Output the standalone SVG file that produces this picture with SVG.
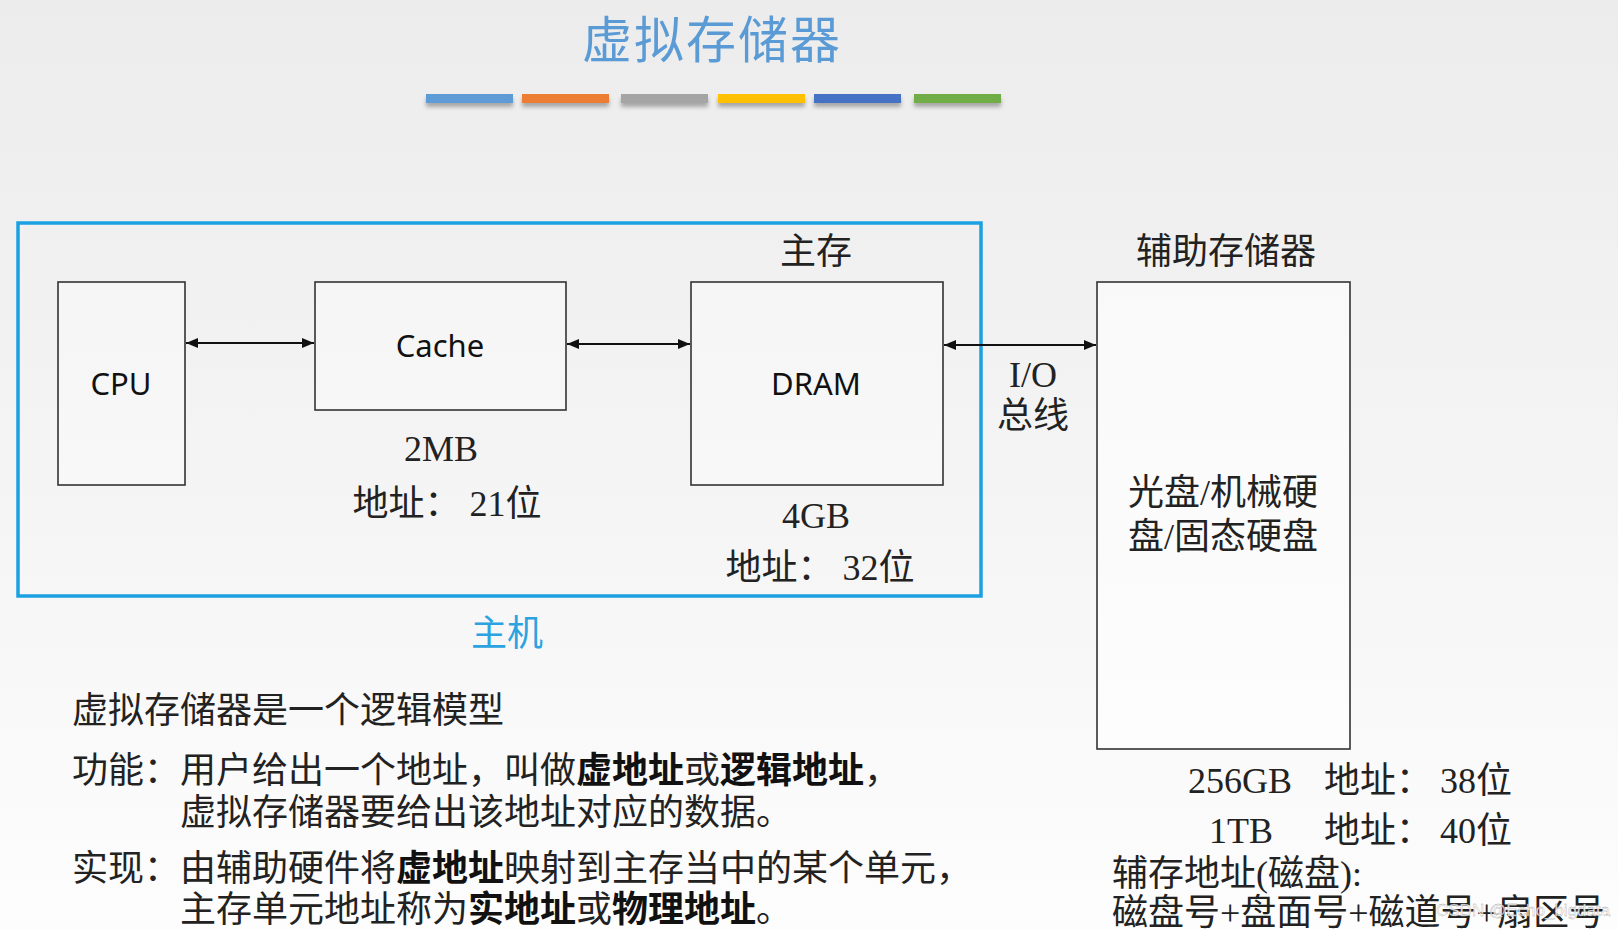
<svg xmlns="http://www.w3.org/2000/svg" width="1618" height="930" viewBox="0 0 1618 930">
<defs>
<linearGradient id="bg" x1="0" y1="0" x2="0" y2="1">
<stop offset="0" stop-color="#ececec"/>
<stop offset="0.5" stop-color="#f4f4f4"/>
<stop offset="1" stop-color="#fdfdfd"/>
</linearGradient>
<marker id="ah" viewBox="0 0 12 10" refX="12" refY="5" markerWidth="12" markerHeight="10" markerUnits="userSpaceOnUse" orient="auto-start-reverse">
<path d="M0,0 L12,5 L0,10 Z" fill="#111"/>
</marker>
<filter id="sh" x="-10%" y="-50%" width="120%" height="250%">
<feDropShadow dx="0" dy="4" stdDeviation="2" flood-color="#000" flood-opacity="0.3"/>
</filter>
</defs>
<style>
.box{fill:#ffffff;fill-opacity:0.35;stroke:#333;stroke-width:1.6}
.lbl{font-family:"Noto Sans","Open Sans",sans-serif;font-size:31px;fill:#111;text-anchor:middle}
.cn{font-family:"Liberation Serif","Noto Sans CJK SC",serif;font-size:36px;fill:#222}
.mid{text-anchor:middle}
.b{font-weight:bold;fill:#111}
.conn{stroke:#111;stroke-width:2;fill:none;marker-start:url(#ah);marker-end:url(#ah)}
</style>
<rect width="1618" height="930" fill="url(#bg)"/>

<g id="title">
<text x="712" y="58" font-family="Noto Sans CJK SC, sans-serif" font-size="50" fill="#5b9bd5" text-anchor="middle" letter-spacing="2">虚拟存储器</text>
<g filter="url(#sh)">
<rect x="426" y="94" width="87" height="9" fill="#5b9bd5"/>
<rect x="522" y="94" width="87" height="9" fill="#ed7d31"/>
<rect x="621" y="94" width="87" height="9" fill="#a5a5a5"/>
<rect x="718" y="94" width="87" height="9" fill="#ffc000"/>
<rect x="814" y="94" width="87" height="9" fill="#4472c4"/>
<rect x="914" y="94" width="87" height="9" fill="#70ad47"/>
</g>
</g>

<g id="host">
<rect x="18" y="223" width="963" height="373" fill="none" stroke="#1ba1e2" stroke-width="3.5"/>
<text class="cn mid" x="507" y="646" style="fill:#2aa3e0">主机</text>
</g>

<g id="cpu">
<rect class="box" x="58" y="282" width="127" height="203"/>
<text class="lbl" x="121" y="395">CPU</text>
</g>

<g id="cache">
<rect class="box" x="315" y="282" width="251" height="128"/>
<text class="lbl" x="440" y="357">Cache</text>
<text class="cn mid" x="441" y="461">2MB</text>
<text class="cn mid" x="447" y="516">地址： 21位</text>
</g>

<g id="dram">
<text class="cn mid" x="816" y="264">主存</text>
<rect class="box" x="691" y="282" width="252" height="203"/>
<text class="lbl" x="816" y="395">DRAM</text>
<text class="cn mid" x="816" y="528">4GB</text>
<text class="cn mid" x="820" y="580">地址： 32位</text>
</g>

<g id="aux">
<text class="cn mid" x="1226" y="264">辅助存储器</text>
<rect class="box" x="1097" y="282" width="253" height="467" style="fill-opacity:0.6"/>
<text class="cn mid" x="1223" y="505">光盘/机械硬</text>
<text class="cn mid" x="1223" y="549">盘/固态硬盘</text>
<text class="cn" x="1188" y="793">256GB</text>
<text class="cn" x="1324" y="793">地址：</text>
<text class="cn" x="1440" y="793">38位</text>
<text class="cn" x="1209" y="843">1TB</text>
<text class="cn" x="1324" y="843">地址：</text>
<text class="cn" x="1440" y="843">40位</text>
<text class="cn" x="1112" y="886">辅存地址(磁盘):</text>
<text class="cn" x="1112" y="925">磁盘号+盘面号+磁道号+扇区号</text>
</g>

<g id="bus-label">
<text class="cn mid" x="1033" y="387">I/O</text>
<text class="cn mid" x="1033" y="428">总线</text>
</g>

<g id="connectors">
<line class="conn" x1="186" y1="343" x2="314" y2="343"/>
<line class="conn" x1="567" y1="344" x2="690" y2="344"/>
<line class="conn" x1="944" y1="345" x2="1096" y2="345"/>
</g>

<g id="notes">
<text class="cn" x="72" y="723">虚拟存储器是一个逻辑模型</text>
<text class="cn" x="72" y="783">功能：用户给出一个地址，叫做<tspan class="b">虚地址</tspan>或<tspan class="b">逻辑地址</tspan>，</text>
<text class="cn" x="180" y="825">虚拟存储器要给出该地址对应的数据。</text>
<text class="cn" x="72" y="881">实现：由辅助硬件将<tspan class="b">虚地址</tspan>映射到主存当中的某个单元，</text>
<text class="cn" x="180" y="922">主存单元地址称为<tspan class="b">实地址</tspan>或<tspan class="b">物理地址</tspan>。</text>
</g>

<g id="watermark">
<text x="1436" y="916" font-family="Liberation Sans, sans-serif" font-size="17" fill="#ffffff" fill-opacity="0.85" stroke="#999" stroke-width="0.3">CSDN @Echo_bigdata</text>
</g>
</svg>
